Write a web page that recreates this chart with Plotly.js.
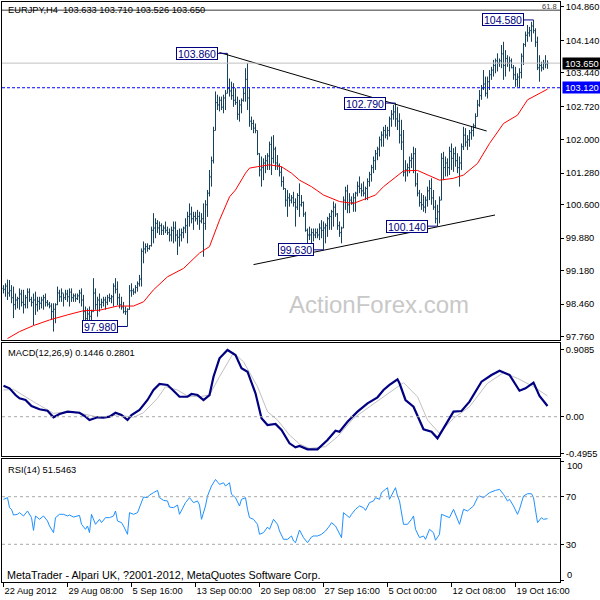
<!DOCTYPE html>
<html><head><meta charset="utf-8">
<script src="https://cdn.plot.ly/plotly-3.0.1.min.js"></script>
<style>html,body{margin:0;padding:0;background:#fff}#c{width:600px;height:600px}</style>
</head><body><div id="c"></div>
<script>
// ---------- DATA (EURJPY H4) ----------
const hi = [98.87,98.91,98.99,98.98,98.87,98.84,98.69,98.62,98.80,98.77,
98.77,98.66,98.80,98.80,98.62,98.69,98.73,98.62,98.62,98.62,
98.66,98.69,98.55,98.51,98.48,98.48,98.48,98.84,98.77,98.80,
98.69,98.77,98.77,98.80,98.80,98.69,98.69,98.69,98.77,98.80,
98.66,98.41,98.37,98.41,98.34,99.02,98.80,98.62,98.69,98.58,
98.62,98.62,98.66,98.69,98.66,98.91,99.02,98.95,98.69,98.62,
98.51,98.41,98.37,98.87,98.91,98.80,98.87,98.95,99.09,99.66,
99.81,99.77,99.77,99.73,100.13,100.42,100.31,100.27,100.24,100.20,
100.16,100.24,100.13,100.09,100.13,100.24,100.24,100.06,100.09,100.09,
100.13,100.31,100.45,100.63,100.56,100.45,100.45,100.49,100.45,100.42,
100.63,100.70,100.92,101.35,101.64,102.28,103.04,102.97,102.93,102.93,
102.97,103.07,103.86,103.32,103.25,103.22,103.11,102.93,102.86,102.89,
103.11,103.54,103.65,103.11,102.50,102.43,102.35,102.20,101.71,101.64,
101.60,101.67,101.71,101.96,102.07,102.10,101.85,101.67,101.49,101.42,
101.21,100.95,100.92,100.85,100.81,100.88,100.74,100.85,101.06,100.81,
100.67,100.45,100.09,100.13,100.09,100.09,100.09,100.09,100.20,100.27,
100.24,100.20,100.34,100.42,100.49,100.67,100.63,100.42,100.24,100.13,
100.78,100.99,101.03,100.85,100.78,100.85,100.88,101.10,101.21,101.06,
101.10,100.99,101.17,101.31,101.46,101.64,101.78,101.85,102.07,102.18,
102.28,102.32,102.28,102.50,102.64,102.75,102.79,102.71,102.57,102.43,
102.21,101.56,101.49,101.64,101.71,101.85,101.82,101.28,100.92,100.85,
100.81,100.78,100.99,101.13,101.17,100.92,100.70,100.60,100.78,101.71,
101.74,101.64,101.60,101.85,101.92,101.82,101.85,101.71,101.64,101.92,
102.28,102.25,102.10,102.21,102.28,102.35,102.57,102.86,103.07,103.18,
103.50,103.36,103.36,103.50,103.57,103.72,103.75,103.86,103.75,104.04,
104.11,103.93,103.82,103.79,103.75,103.61,103.57,103.43,103.54,103.86,
104.08,104.33,104.47,104.43,104.54,104.58,104.40,104.22,103.82,103.68,
103.72,103.82,103.710];
const lo = [98.69,98.62,98.55,98.62,98.48,98.16,98.34,98.37,98.34,98.41,
98.26,98.37,98.37,98.51,98.41,98.01,98.23,98.30,98.34,98.37,
98.34,98.41,98.41,98.37,98.12,97.87,98.05,98.44,98.51,98.51,
98.41,98.55,98.51,98.41,98.51,98.51,98.51,98.55,98.48,98.41,
98.12,98.05,97.98,98.12,98.05,98.30,98.34,98.19,98.30,98.37,
98.41,98.34,98.44,98.51,98.48,98.41,98.69,98.44,98.37,98.34,
98.26,98.23,97.98,98.34,98.62,98.66,98.69,98.73,98.84,98.84,
99.34,99.55,99.59,99.63,99.70,99.77,99.88,99.99,99.95,99.95,
99.95,99.99,99.95,99.81,99.81,99.77,99.81,99.52,99.70,99.81,
99.88,99.99,99.77,100.13,100.20,100.06,100.24,100.17,100.06,100.20,
99.48,100.06,100.34,100.78,100.99,101.49,102.20,102.64,102.61,102.64,
102.57,102.64,103.00,102.93,102.86,102.71,102.75,102.43,102.39,102.57,
102.82,102.82,102.64,102.28,102.21,102.14,102.14,101.67,101.21,100.99,
101.13,101.28,101.35,101.35,101.24,101.49,101.35,101.35,101.21,100.99,
100.92,100.56,100.34,100.56,100.63,100.56,100.13,100.49,100.34,100.56,
100.34,100.02,99.77,99.84,99.77,99.81,99.88,99.88,99.84,99.88,
99.63,99.77,99.91,100.06,100.06,100.13,100.34,100.06,99.91,99.77,
100.10,100.49,100.42,100.42,100.60,100.45,100.45,100.78,100.85,100.78,
100.78,100.70,100.70,100.99,101.10,101.28,101.35,101.56,101.64,101.85,
101.85,102.03,102.00,102.07,102.28,102.43,102.28,102.21,101.92,101.78,
101.21,101.10,101.21,101.28,101.39,101.28,100.99,100.78,100.56,100.49,
100.45,100.42,100.56,100.70,100.60,100.49,100.20,100.14,100.20,100.70,
101.13,101.21,101.21,101.24,101.35,101.31,101.42,101.28,100.99,101.35,
101.78,101.85,101.78,101.85,102.00,102.07,102.25,102.50,102.71,102.86,
103.07,102.93,102.89,103.07,103.29,103.36,103.43,103.47,103.57,103.54,
103.29,103.36,103.57,103.47,103.54,103.29,103.14,103.14,103.12,103.32,
103.61,104.00,104.11,104.22,104.11,104.29,104.00,103.50,103.25,103.47,
103.50,103.54,103.526];
const op = [98.80,98.78,98.85,98.70,98.75,98.60,98.45,98.55,98.58,98.68,
98.50,98.45,98.60,98.72,98.56,98.50,98.55,98.45,98.52,98.48,
98.55,98.60,98.50,98.46,98.42,98.30,98.35,98.45,98.70,98.62,
98.70,98.60,98.68,98.62,98.72,98.60,98.64,98.58,98.64,98.70,
98.55,98.30,98.15,98.25,98.20,98.30,98.70,98.45,98.55,98.45,
98.50,98.55,98.50,98.60,98.58,98.62,98.85,98.78,98.60,98.45,
98.40,98.30,98.30,98.35,98.75,98.75,98.72,98.82,98.90,99.00,
99.60,99.65,99.70,99.66,99.72,100.05,100.10,100.20,100.10,100.15,
100.05,100.10,100.05,100.00,99.95,100.05,100.10,99.95,99.90,99.95,
100.00,100.10,100.15,100.35,100.40,100.30,100.35,100.30,100.35,100.25,
100.30,100.20,100.60,100.85,101.20,101.55,102.20,102.80,102.75,102.85,
102.70,102.90,103.00,103.10,103.05,102.95,102.85,102.80,102.55,102.75,
102.85,103.00,103.30,102.90,102.40,102.35,102.25,102.20,101.70,101.35,
101.40,101.50,101.55,101.65,101.90,101.60,101.80,101.50,101.45,101.30,
101.10,100.95,100.70,100.75,100.70,100.75,100.65,100.55,100.80,100.60,
100.65,100.40,100.05,99.95,99.95,100.00,99.95,100.00,99.95,100.10,
100.05,100.10,100.15,100.30,100.35,100.45,100.55,100.40,100.15,100.00,
100.10,100.70,100.90,100.60,100.70,100.65,100.75,100.85,101.00,100.95,
100.90,100.85,100.95,101.10,101.25,101.40,101.55,101.70,101.80,102.00,
102.10,102.20,102.10,102.20,102.45,102.55,102.60,102.45,102.40,102.10,
101.95,101.30,101.35,101.40,101.55,101.60,101.70,101.05,100.85,100.65,
100.60,100.55,100.70,100.90,100.95,100.75,100.55,100.30,100.45,100.70,
101.60,101.40,101.50,101.40,101.75,101.60,101.70,101.55,101.40,101.50,
101.85,102.10,101.95,102.00,102.15,102.20,102.30,102.50,102.75,102.95,
103.10,103.20,103.00,103.25,103.40,103.50,103.60,103.70,103.65,103.70,
103.85,103.60,103.75,103.65,103.70,103.55,103.40,103.30,103.35,103.45,
103.80,104.05,104.25,104.30,104.35,104.45,104.35,104.10,103.55,103.60,
103.55,103.65,103.633];
const cl = [98.78,98.85,98.70,98.75,98.60,98.45,98.55,98.58,98.68,98.50,
98.45,98.60,98.72,98.56,98.50,98.55,98.45,98.52,98.48,98.55,
98.60,98.50,98.46,98.42,98.30,98.35,98.45,98.70,98.62,98.70,
98.60,98.68,98.62,98.72,98.60,98.64,98.58,98.64,98.70,98.55,
98.30,98.15,98.25,98.20,98.30,98.70,98.45,98.55,98.45,98.50,
98.55,98.50,98.60,98.58,98.62,98.85,98.78,98.60,98.45,98.40,
98.30,98.30,98.35,98.75,98.75,98.72,98.82,98.90,99.00,99.60,
99.65,99.70,99.66,99.72,100.05,100.10,100.20,100.10,100.15,100.05,
100.10,100.05,100.00,99.95,100.05,100.10,99.95,99.90,99.95,100.00,
100.10,100.15,100.35,100.40,100.30,100.35,100.30,100.35,100.25,100.30,
100.20,100.60,100.85,101.20,101.55,102.20,102.80,102.75,102.85,102.70,
102.90,103.00,103.10,103.05,102.95,102.85,102.80,102.55,102.75,102.85,
103.00,103.30,102.90,102.40,102.35,102.25,102.20,101.70,101.35,101.40,
101.50,101.55,101.65,101.90,101.60,101.80,101.50,101.45,101.30,101.10,
100.95,100.70,100.75,100.70,100.75,100.65,100.55,100.80,100.60,100.65,
100.40,100.05,99.95,99.95,100.00,99.95,100.00,99.95,100.10,100.05,
100.10,100.15,100.30,100.35,100.45,100.55,100.40,100.15,100.00,100.10,
100.70,100.90,100.60,100.70,100.65,100.75,100.85,101.00,100.95,100.90,
100.85,100.95,101.10,101.25,101.40,101.55,101.70,101.80,102.00,102.10,
102.20,102.10,102.20,102.45,102.55,102.60,102.45,102.40,102.10,101.95,
101.30,101.35,101.40,101.55,101.60,101.70,101.05,100.85,100.65,100.60,
100.55,100.70,100.90,100.95,100.75,100.55,100.30,100.45,100.70,101.60,
101.40,101.50,101.40,101.75,101.60,101.70,101.55,101.40,101.50,101.85,
102.10,101.95,102.00,102.15,102.20,102.30,102.50,102.75,102.95,103.10,
103.20,103.00,103.25,103.40,103.50,103.60,103.70,103.65,103.70,103.85,
103.60,103.75,103.65,103.70,103.55,103.40,103.30,103.35,103.45,103.80,
104.05,104.25,104.30,104.35,104.45,104.35,104.10,103.55,103.60,103.55,
103.65,103.633,103.650];

// moving average (red), bar index / price
const maX = [2,8,15,23,32,40,48,57,65,70,75,82,90,94,98,103,108,113,116,121,123,127,133,139,144,148,154,160,164,168,175,182,186,190,197,200,207,212,218,225,230,237,243,250,257,262,267,272];
const maY = [97.72,97.87,98.00,98.12,98.23,98.32,98.33,98.42,98.42,98.51,98.77,99.05,99.23,99.40,99.56,99.70,100.27,100.77,100.92,101.28,101.39,101.42,101.46,101.42,101.28,101.13,100.99,100.81,100.74,100.67,100.63,100.74,100.81,100.99,101.24,101.33,101.34,101.24,101.13,101.17,101.24,101.49,101.92,102.35,102.53,102.86,102.98,103.09];

// MACD(12,26,9)
const macdX = [0,3,6,8,11,14,18,22,25,28,32,38,41,43,47,50,53,56,59,62,64,68,72,75,78,82,85,88,92,94,97,100,103,105,108,112,116,119,122,126,129,132,136,139,143,146,148,152,157,162,166,168,172,177,182,187,190,193,197,198,201,205,210,214,217,220,225,229,233,239,244,248,253,258,261,265,268,272];
const macdY = [0.419,0.384,0.293,0.249,0.226,0.145,0.100,0.081,-0.008,0.036,0.068,0.054,0.000,-0.045,-0.008,-0.014,0.000,0.054,0.023,-0.045,0.023,0.091,0.226,0.361,0.442,0.429,0.351,0.270,0.270,0.307,0.293,0.226,0.293,0.541,0.789,0.902,0.834,0.654,0.608,0.316,-0.022,-0.112,-0.099,-0.180,-0.360,-0.414,-0.396,-0.441,-0.441,-0.315,-0.189,-0.203,-0.068,0.068,0.181,0.262,0.361,0.429,0.506,0.452,0.226,0.135,-0.170,-0.203,-0.292,-0.157,0.068,0.077,0.203,0.473,0.564,0.622,0.564,0.351,0.384,0.460,0.280,0.1446];
const sigX = [0,5,15,25,32,40,48,57,65,70,77,81,87,92,98,103,108,115,120,127,132,137,143,148,153,161,167,175,183,190,200,207,212,218,225,233,242,250,257,265,272];
const sigY = [0.361,0.370,0.203,0.045,0.068,0.036,-0.008,0.023,-0.008,0.054,0.249,0.406,0.361,0.279,0.270,0.293,0.541,0.865,0.743,0.406,0.068,-0.045,-0.248,-0.369,-0.428,-0.405,-0.270,-0.022,0.135,0.270,0.460,0.270,-0.045,-0.225,-0.022,0.135,0.452,0.595,0.519,0.406,0.2801];

// RSI(14)
const rsiX = [0,2,3,4,5,7,8,10,12,14,15,16,18,20,22,23,25,26,28,30,32,33,35,38,39,41,42,43,44,46,48,49,51,53,55,56,57,59,60,62,63,65,67,68,70,72,73,75,77,78,80,82,83,85,87,88,90,91,93,95,97,98,99,101,102,104,106,108,110,111,113,114,116,118,119,121,122,123,125,127,128,130,132,133,135,137,138,140,142,144,145,146,148,150,152,154,155,157,159,161,163,164,166,168,169,170,173,174,176,178,180,181,183,185,186,188,189,191,192,193,195,196,197,198,200,202,204,205,206,208,210,211,213,215,216,218,219,221,223,225,226,227,228,230,232,233,235,237,238,240,242,243,246,248,250,252,253,255,257,258,260,262,264,265,267,269,270,272];
const rsiY = [67.8,69.2,60.8,59.4,54.6,55.2,56.6,53.8,58.0,52.4,41.7,53.8,51.0,53.8,49.6,45.4,39.8,52.4,55.2,55.2,53.8,54.6,52.9,54.3,46.8,42.6,45.4,39.8,55.2,46.8,51.0,48.2,52.4,52.4,53.8,58.0,49.6,48.2,45.4,38.4,56.6,55.2,56.6,60.8,69.7,69.2,71.4,73.4,75.3,69.2,66.9,66.4,61.3,60.8,63.0,55.2,62.2,65.0,69.2,65.0,66.4,63.0,51.0,62.2,70.6,79.0,84.5,80.3,81.7,79.0,81.7,72.0,69.2,62.2,67.8,69.2,59.4,52.4,51.0,46.8,38.4,39.8,44.5,42.6,51.0,46.8,41.2,34.2,34.2,37.0,32.8,31.4,42.0,35.6,31.4,36.2,37.0,37.0,38.4,41.2,45.4,48.2,45.4,38.4,35.6,56.6,52.4,55.2,59.4,62.2,60.8,58.5,65.0,66.4,69.2,67.8,73.4,76.2,77.6,67.8,74.8,77.6,70.6,66.4,46.8,46.8,51.0,53.8,42.6,35.6,37.0,34.2,42.6,39.8,33.4,38.4,55.2,53.8,52.4,59.4,55.2,52.4,46.8,59.4,58.0,59.4,62.2,69.2,70.6,69.2,72.0,73.4,75.3,76.2,72.0,66.4,67.8,62.2,55.2,59.4,70.6,72.5,72.5,69.2,48.2,52.4,51.0,51.5463];

// annotated swing points (bar index, price)
const pivotIdx = [62,112,160,196,217,265];
const pivotVal = [97.98,103.86,99.63,102.79,100.14,104.58];
// trend lines (bar index, price)
const trendUpX = [108,241.6], trendUpY = [103.878,102.188];
const trendLoX = [125,245.75], trendLoY = [99.312,100.38];
// horizontal levels
const lastPrice = 103.65, supportLevel = 103.12, fibLevel = 104.79;

// axis ticks
const xTickIdx = [0,32,64,96,128,160,192,224,256];
const xTickText = ['22 Aug 2012','29 Aug 08:00','5 Sep 16:00','13 Sep 00:00','20 Sep 08:00','27 Sep 16:00','5 Oct 00:00','12 Oct 08:00','19 Oct 16:00'];
const priceTicks = [97.76,98.46,99.18,99.88,100.60,101.28,102.00,102.72,103.44,104.14,104.86];
const macdTicks = [-0.4955,0,0.9085];
const macdTickText = ['-0.4955','0.00','0.9085'];
const rsiTicks = [0,30,70,100];

// ---------- CHART ----------
const FONT = "'Liberation Sans', Arial, sans-serif";
const BAR = '#17425f', NAVY = '#000080';
const idx = hi.map((_, i) => i);
const W = 600, H = 600, M = {l:2, r:40, t:2, b:18};
const PH = H - M.t - M.b, PW = W - M.l - M.r;
const py = p => (H - M.b - p) / PH;   // pixel row -> paper y
const pxp = p => (p - M.l) / PW;      // pixel col -> paper x

const traces = [
  {type:'ohlc', x: idx, open: op, high: hi, low: lo, close: cl, xaxis:'x', yaxis:'y',
   increasing:{line:{color:BAR, width:1}}, decreasing:{line:{color:BAR, width:1}},
   tickwidth:0.5, hoverinfo:'skip'},
  {type:'scatter', mode:'lines', x: maX, y: maY, xaxis:'x', yaxis:'y', line:{color:'#ff0000', width:1}},
  {type:'scatter', mode:'lines', x: trendUpX, y: trendUpY, xaxis:'x', yaxis:'y', line:{color:'#000', width:1}},
  {type:'scatter', mode:'lines', x: trendLoX, y: trendLoY, xaxis:'x', yaxis:'y', line:{color:'#000', width:1}},
  {type:'scatter', mode:'lines', x: sigX, y: sigY, xaxis:'x2', yaxis:'y2', line:{color:'#c0c0c0', width:1}},
  {type:'scatter', mode:'lines', x: macdX, y: macdY, xaxis:'x2', yaxis:'y2', line:{color:NAVY, width:2.2}},
  {type:'scatter', mode:'lines', x: rsiX, y: rsiY, xaxis:'x3', yaxis:'y3', line:{color:'#1e90ff', width:1}}
];

const axX = {range:[-0.75, 278.25], showgrid:false, zeroline:false, showline:true, mirror:true,
  linecolor:'#000', linewidth:1, ticks:'', showticklabels:false, fixedrange:true};
const axY = {side:'right', showgrid:false, zeroline:false, showline:true, mirror:true,
  linecolor:'#000', linewidth:1, ticks:'outside', ticklen:3, tickcolor:'#000',
  tickfont:{family:FONT, size:9.3, color:'#000'}, fixedrange:true};

const shapes = [
  {type:'line', xref:'paper', x0:0, x1:1, yref:'y', y0:fibLevel, y1:fibLevel, line:{color:'#3a3a3a', width:1}},
  {type:'line', xref:'paper', x0:0, x1:1, yref:'y', y0:lastPrice, y1:lastPrice, line:{color:'#c0c0c0', width:1}},
  {type:'line', xref:'paper', x0:0, x1:1, yref:'y', y0:supportLevel, y1:supportLevel, line:{color:'#0000ff', width:1, dash:'3px,2px'}},
  {type:'line', xref:'paper', x0:0, x1:1, yref:'y2', y0:0, y1:0, line:{color:'#a8a8a8', width:1, dash:'3px,3px'}},
  {type:'line', xref:'paper', x0:0, x1:1, yref:'y3', y0:70, y1:70, line:{color:'#a8a8a8', width:1, dash:'3px,3px'}},
  {type:'line', xref:'paper', x0:0, x1:1, yref:'y3', y0:30, y1:30, line:{color:'#a8a8a8', width:1, dash:'3px,3px'}}
];
const GAP = 5;
pivotIdx.forEach((b, k) => shapes.push({type:'line', xref:'x', yref:'y', x0:b - GAP, x1:b,
  y0:pivotVal[k], y1:pivotVal[k], line:{color:NAVY, width:1}}));

const ann = [];
pivotIdx.forEach((b, k) => ann.push({xref:'x', yref:'y', x:b - GAP, y:pivotVal[k], xanchor:'right', yanchor:'middle',
  text:pivotVal[k].toFixed(3), showarrow:false, bgcolor:'#fff', bordercolor:NAVY, borderwidth:1, borderpad:1,
  height:9, font:{family:FONT, size:10.5, color:NAVY}}));
const txt = (t, x, y, size, color, extra) => Object.assign({xref:'paper', yref:'paper', x:pxp(x), y:py(y),
  xanchor:'left', yanchor:'middle', text:t, showarrow:false, font:{family:FONT, size:size, color:color}}, extra || {});
ann.push(txt('EURJPY,H4  ' + [op[272], hi[272], lo[272], cl[272]].map(v => v.toFixed(3)).join(' '), 6, 10, 9.3, '#000'));
ann.push(txt('MACD(12,26,9) ' + macdY[macdY.length-1].toFixed(4) + ' ' + sigY[sigY.length-1].toFixed(4), 6, 352.5, 9.3, '#000'));
ann.push(txt('RSI(14) ' + rsiY[rsiY.length-1].toFixed(4), 6, 470, 9.3, '#000'));
ann.push(txt('MetaTrader - Alpari UK, ?2001-2012, MetaQuotes Software Corp.', 5, 574.5, 10.8, '#000'));
ann.push(txt('ActionForex.com', 379, 304, 24, '#c8c8c8', {xanchor:'center'}));
// current price / support tags on the price scale
ann.push({xref:'paper', yref:'y', x:1, y:lastPrice, xanchor:'left', yanchor:'middle', xshift:2, text:lastPrice.toFixed(3),
  showarrow:false, bgcolor:'#000', borderpad:1, height:9, width:36, font:{family:FONT, size:9.3, color:'#fff'}});
ann.push({xref:'paper', yref:'y', x:1, y:supportLevel, xanchor:'left', yanchor:'middle', xshift:2, text:supportLevel.toFixed(3),
  showarrow:false, bgcolor:'#0000ff', borderpad:1, height:9, width:36, font:{family:FONT, size:9.3, color:'#fff'}});
ann.push({xref:'paper', yref:'y', x:1, y:fibLevel, xanchor:'right', yanchor:'bottom', xshift:-2, yshift:-2, text:'61.8',
  showarrow:false, borderpad:0, font:{family:FONT, size:7.5, color:'#404040'}});
ann.push({xref:'paper', yref:'y3', x:1, y:100, xanchor:'left', yanchor:'middle', xshift:5, yshift:-5, text:'100',
  showarrow:false, font:{family:FONT, size:9.3, color:'#000'}});
ann.push({xref:'paper', yref:'y3', x:1, y:0, xanchor:'left', yanchor:'middle', xshift:5, yshift:5, text:'0',
  showarrow:false, font:{family:FONT, size:9.3, color:'#000'}});

const layout = {
  width:W, height:H, margin:M, paper_bgcolor:'#fff', plot_bgcolor:'#fff', showlegend:false,
  font:{family:FONT, size:9.3, color:'#000'},
  xaxis: Object.assign({}, axX, {anchor:'y', rangeslider:{visible:false}}),
  xaxis2: Object.assign({}, axX, {anchor:'y2', matches:'x'}),
  xaxis3: Object.assign({}, axX, {anchor:'y3', matches:'x', ticks:'outside', ticklen:4, tickcolor:'#000',
    showticklabels:true, tickmode:'array', tickvals:xTickIdx, ticktext:xTickText, ticklabelposition:'outside right',
    tickangle:0, automargin:false, tickfont:{family:FONT, size:9.3, color:'#000'}}),
  yaxis: Object.assign({}, axY, {anchor:'x', domain:[py(339.5), 1], range:[97.6997, 104.966],
    tickmode:'array', tickvals:priceTicks, ticktext:priceTicks.map(v => v.toFixed(3))}),
  yaxis2: Object.assign({}, axY, {anchor:'x2', domain:[py(455.5), py(342.7)], range:[-0.5245, 1.0004],
    tickmode:'array', tickvals:macdTicks, ticktext:macdTickText}),
  yaxis3: Object.assign({}, axY, {anchor:'x3', domain:[0, py(458.5)], range:[-1.68, 102.1],
    tickmode:'array', tickvals:rsiTicks, ticktext:['', '30', '70', '']}),
  shapes: shapes, annotations: ann
};
Plotly.newPlot('c', traces, layout, {displayModeBar:false, staticPlot:true});
</script></body></html>
